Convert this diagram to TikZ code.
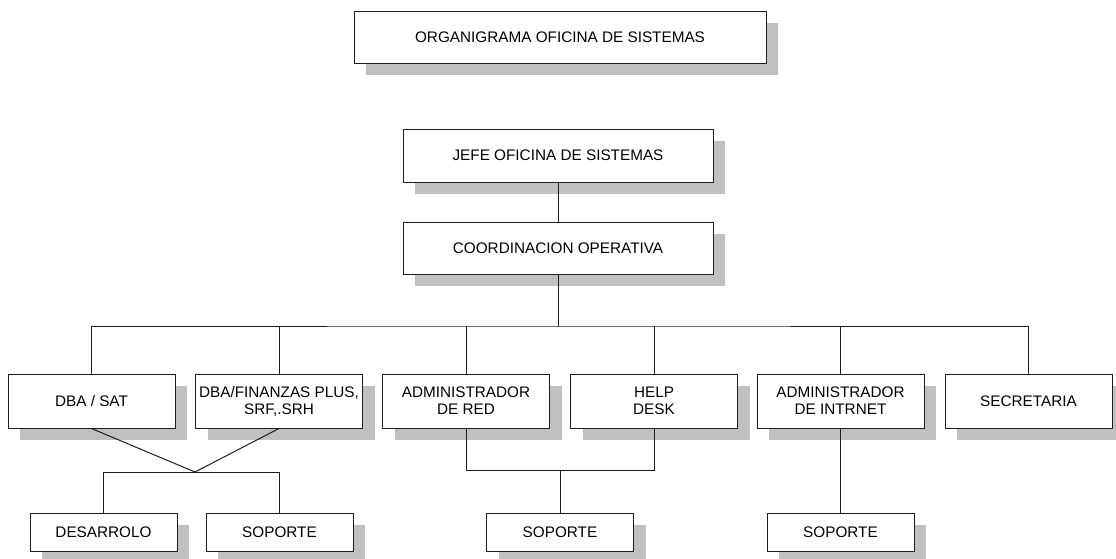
\documentclass[tikz,border=0pt]{standalone}
\usepackage{fontspec}
\setmainfont{Liberation Sans}
\usepackage{tikz}
\usetikzlibrary{shadows}
\definecolor{sombra}{RGB}{192,192,192}
\definecolor{linea}{RGB}{30,30,30}

\begin{document}
\begin{tikzpicture}[x=1pt,y=-1pt,
  caja/.style={draw=linea,line width=1pt,fill=white,align=center,
    font=\fontsize{15.3}{17}\selectfont,
    drop shadow={shadow xshift=12pt,shadow yshift=-12pt,fill=sombra,draw=none,opacity=1}},
  grande/.style={caja,minimum width=167pt,minimum height=54pt},
  chica/.style={caja,minimum width=147pt,minimum height=38pt},
  conector/.style={draw=linea,line width=1pt}]
\useasboundingbox (0,0) rectangle (1116,558);
\node[caja,minimum width=412pt,minimum height=52pt] (titulo) at (560,37) {ORGANIGRAMA OFICINA DE SISTEMAS};
\node[caja,minimum width=310pt,minimum height=53pt] (jefe) at (558,155.5) {JEFE OFICINA DE SISTEMAS};
\node[caja,minimum width=310pt,minimum height=52pt] (coord) at (558,248) {COORDINACION OPERATIVA};
\node[grande] (dbasat) at (91.5,401) {DBA / SAT};
\node[grande] (dbafin) at (279,401) {DBA/FINANZAS PLUS,\\SRF,.SRH};
\node[grande] (adminred) at (466,401) {ADMINISTRADOR\\DE RED};
\node[grande] (helpdesk) at (654,401) {HELP\\DESK};
\node[grande] (admininet) at (840.5,401) {ADMINISTRADOR\\DE INTRNET};
\node[grande] (secretaria) at (1028.5,401) {SECRETARIA};
\node[chica] (desarrolo) at (103.5,532) {DESARROLO};
\node[chica] (soporteA) at (279.5,532) {SOPORTE};
\node[chica] (soporteB) at (560,532) {SOPORTE};
\node[chica] (soporteC) at (840.5,532) {SOPORTE};
\coordinate (bus) at (558,326);
\coordinate (union) at (195,472);
\coordinate (junta) at (560,470);
\draw[conector] (jefe.south) -- (coord.north);
\draw[conector] (coord.south) -- (bus);
\draw[conector] (dbasat.north) |- (bus) -| (secretaria.north);
\foreach \n in {dbafin,adminred,helpdesk,admininet}
  \draw[conector] (\n.north) -- (\n.north |- bus);
\draw[conector] (dbasat.south) -- (union) -- (dbafin.south);
\draw[conector] (desarrolo.north) |- (union) -| (soporteA.north);
\draw[conector] (adminred.south) |- (junta) -| (helpdesk.south);
\draw[conector] (junta) -- (soporteB.north);
\draw[conector] (admininet.south) -- (soporteC.north);
\end{tikzpicture}
\end{document}
